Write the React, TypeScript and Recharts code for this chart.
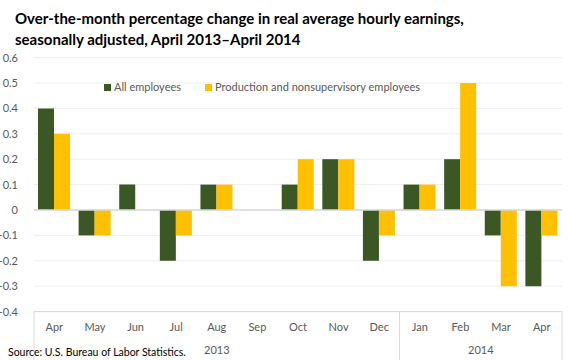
import React from "react";
import {
  BarChart,
  Bar,
  XAxis,
  YAxis,
  CartesianGrid,
  ReferenceLine,
} from "recharts";

const months = ["Apr", "May", "Jun", "Jul", "Aug", "Sep", "Oct", "Nov", "Dec", "Jan", "Feb", "Mar", "Apr"];
const allEmployees = [0.4, -0.1, 0.1, -0.2, 0.1, 0, 0.1, 0.2, -0.2, 0.1, 0.2, -0.1, -0.3];
const production = [0.3, -0.1, 0, -0.1, 0.1, 0, 0.2, 0.2, -0.1, 0.1, 0.5, -0.3, -0.1];
const yTicks = [-0.4, -0.3, -0.2, -0.1, 0, 0.1, 0.2, 0.3, 0.4, 0.5, 0.6];
const years = ["2013", "2014"];

const data = months.map((m, i) => ({
  month: m,
  all: allEmployees[i],
  prod: production[i],
}));

const W = 580;
const H = 360;
const LEFT = 34;
const RIGHT = 18;
const STEP = (W - LEFT - RIGHT) / months.length;
const FONT = "Lato, 'Open Sans', sans-serif";
const GRAY = "#595959";
const LINE = "#d9d9d9";
const GREEN = "#3a5724";
const YELLOW = "#ffc000";

function MonthTick(props: any) {
  const { x, y, payload, index } = props;
  const half = STEP / 2;
  return (
    <g>
      <text x={x} y={y + 19} textAnchor="middle" fontSize={11} fill={GRAY} fontFamily={FONT}>
        {payload.value}
      </text>
      {(index === 0 || index === 9) && (
        <line x1={x - half} x2={x - half} y1={y} y2={H} stroke={LINE} />
      )}
      {index === months.length - 1 && (
        <line x1={x + half} x2={x + half} y1={y} y2={H} stroke={LINE} />
      )}
      {index === 4 && (
        <text x={x} y={y + 42} textAnchor="middle" fontSize={11} fill={GRAY} fontFamily={FONT}>
          {years[0]}
        </text>
      )}
      {index === 10 && (
        <text x={x + half} y={y + 42} textAnchor="middle" fontSize={11} fill={GRAY} fontFamily={FONT}>
          {years[1]}
        </text>
      )}
    </g>
  );
}

function LegendBox() {
  const items = [
    { label: "All employees", color: GREEN },
    { label: "Production and nonsupervisory employees", color: YELLOW },
  ];
  return (
    <div
      style={{
        position: "absolute",
        left: 104,
        top: 80,
        display: "flex",
        fontFamily: FONT,
        fontSize: 11,
        color: GRAY,
        lineHeight: "14px",
      }}
    >
      {items.map((it) => (
        <div key={it.label} style={{ display: "flex", alignItems: "center", marginRight: 24 }}>
          <span style={{ width: 7, height: 7, background: it.color, display: "inline-block", marginRight: 3 }} />
          {it.label}
        </div>
      ))}
    </div>
  );
}

export default function App() {
  return (
    <div style={{ position: "absolute", left: 0, top: 0, width: W, height: H, background: "#fff", overflow: "hidden" }}>
      <div
        style={{
          position: "absolute",
          left: 15,
          top: 8,
          fontFamily: FONT,
          fontWeight: 700,
          fontSize: 15,
          lineHeight: "20.5px",
          color: "#000",
        }}
      >
        Over-the-month percentage change in real average hourly earnings,
        <br />
        seasonally adjusted, April 2013–April 2014
      </div>
      <BarChart
        width={W}
        height={H}
        data={data}
        margin={{ top: 57.6, right: RIGHT, bottom: 0, left: 0 }}
        barSize={16}
        barGap={0}
      >
        <CartesianGrid vertical={false} stroke="#efefef" />
        <YAxis
          width={LEFT}
          domain={[-0.4, 0.6]}
          ticks={yTicks}
          interval={0}
          axisLine={false}
          tickLine={false}
          tickMargin={10}
          tick={{ fontSize: 11, fill: GRAY, fontFamily: FONT }}
          tickFormatter={(v: number) => (v === 0 ? "0" : v.toFixed(1))}
        />
        <XAxis
          dataKey="month"
          height={48.4}
          interval={0}
          tickLine={false}
          tickSize={0}
          tickMargin={0}
          axisLine={{ stroke: LINE }}
          tick={<MonthTick />}
        />
        <ReferenceLine y={0} stroke={LINE} strokeWidth={1.5} />
        <Bar dataKey="all" name="All employees" fill={GREEN} isAnimationActive={false} />
        <Bar dataKey="prod" name="Production and nonsupervisory employees" fill={YELLOW} isAnimationActive={false} />
      </BarChart>
      <LegendBox />
      <div
        style={{
          position: "absolute",
          left: 8,
          top: 346,
          fontFamily: FONT,
          fontSize: 10.5,
          color: "#000",
        }}
      >
        Source: U.S. Bureau of Labor Statistics.
      </div>
    </div>
  );
}
